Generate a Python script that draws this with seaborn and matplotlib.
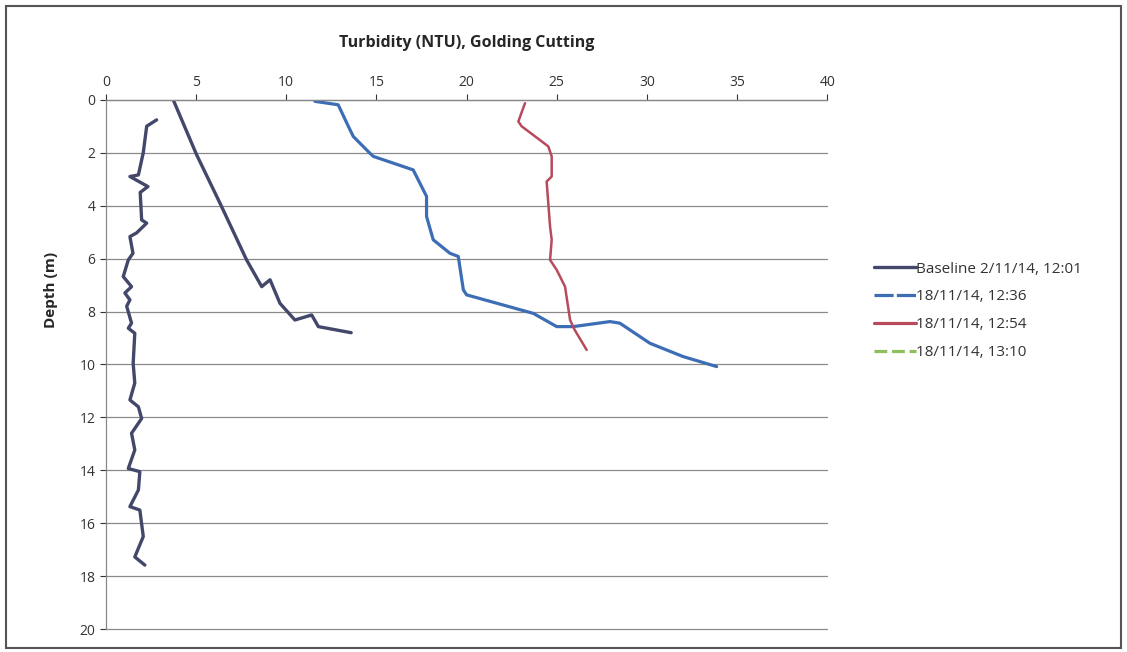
import numpy as np
import pandas as pd
import matplotlib
matplotlib.use("Agg")
import matplotlib.pyplot as plt
from matplotlib.lines import Line2D
from matplotlib.patches import Rectangle
import seaborn as sns

# ---- data (turbidity NTU vs depth m) ----
baseline_ntu = [2.81, 2.26, 2.07, 1.80, 1.33, 2.33, 1.90, 1.98, 2.26, 1.70, 1.33, 1.50, 1.24,
                0.96, 1.42, 1.05, 1.33, 1.15, 1.42, 1.24, 1.60, 1.51, 1.60, 1.33, 1.80, 1.98,
                1.42, 1.60, 1.24, 1.88, 1.80, 1.33, 1.88, 2.07, 1.60, 2.16]
baseline_depth = [0.76, 1.00, 2.00, 2.84, 2.90, 3.28, 3.50, 4.54, 4.66, 5.03, 5.17, 5.80, 6.05,
                  6.68, 7.06, 7.30, 7.56, 7.80, 8.44, 8.63, 8.82, 9.96, 10.70, 11.34, 11.60, 12.04,
                  12.60, 13.23, 13.93, 14.05, 14.74, 15.37, 15.50, 16.50, 17.27, 17.58]

profile2_ntu = [3.73, 5.03, 6.32, 7.80, 8.64, 9.10, 9.65, 10.48, 11.41, 11.78, 13.60]
profile2_depth = [0.00, 2.08, 3.90, 6.05, 7.06, 6.80, 7.69, 8.32, 8.13, 8.57, 8.80]

t1236_ntu = [11.59, 12.88, 13.44, 13.72, 14.64, 14.83, 17.04, 17.78, 17.78, 18.15, 19.08, 19.54,
             19.82, 20.00, 23.70, 25.00, 25.92, 27.95, 28.50, 30.17, 32.00, 33.87]
t1236_depth = [0.06, 0.19, 1.00, 1.39, 2.02, 2.14, 2.65, 3.65, 4.41, 5.29, 5.80, 5.92,
               7.18, 7.37, 8.07, 8.57, 8.57, 8.38, 8.44, 9.20, 9.70, 10.08]

t1254_ntu = [23.24, 22.87, 23.05, 24.53, 24.72, 24.72, 24.44, 24.63, 24.72, 24.63, 25.00, 25.46,
             25.74, 26.00, 26.66]
t1254_depth = [0.13, 0.82, 1.00, 1.76, 2.14, 2.90, 3.09, 4.79, 5.29, 6.05, 6.43, 7.06,
               8.32, 8.70, 9.45]

series_labels = ["Baseline 2/11/14, 12:01", "18/11/14, 12:36", "18/11/14, 12:54", "18/11/14, 13:10"]
x_ticks = [0, 5, 10, 15, 20, 25, 30, 35, 40]
y_ticks = [0, 2, 4, 6, 8, 10, 12, 14, 16, 18, 20]

colors = {"base": "#43486b", "blue": "#3d6db5", "red": "#b84a5c", "green": "#8fbf5a"}

sns.set_theme(style="white")
plt.rcParams['font.family'] = ['Open Sans', 'DejaVu Sans']

fig = plt.figure(figsize=(11.27, 6.52), dpi=100)
ax = fig.add_axes([0.094, 0.035, 0.64, 0.812])

def draw(xs, ys, color, lw):
    df = pd.DataFrame({"ntu": xs, "depth": ys})
    sns.lineplot(data=df, x="ntu", y="depth", sort=False, estimator=None,
                 color=color, lw=lw, ax=ax, legend=False)

draw(baseline_ntu, baseline_depth, colors["base"], 2.4)
draw(profile2_ntu, profile2_depth, colors["base"], 2.4)
draw(t1236_ntu, t1236_depth, colors["blue"], 2.3)
draw(t1254_ntu, t1254_depth, colors["red"], 1.8)

ax.set_xlim(0, 40)
ax.set_ylim(20, 0)
ax.xaxis.tick_top()
ax.xaxis.set_label_position("top")
ax.set_xticks(x_ticks)
ax.set_yticks(y_ticks)
ax.tick_params(axis="both", labelsize=10, colors="#333333", length=4, width=0.8, direction="out")
ax.tick_params(axis="y", left=True, labelleft=True)
ax.tick_params(axis="x", top=True, pad=3)
ax.set_xlabel("Turbidity (NTU), Golding Cutting", fontsize=11.5, fontweight="bold", labelpad=20)
ax.set_ylabel("Depth (m)", fontsize=11, fontweight="bold")
ax.yaxis.set_label_coords(-0.066, 0.64)

for s in ["right", "bottom"]:
    ax.spines[s].set_visible(False)
for s in ["top", "left"]:
    ax.spines[s].set_color("#888888")
    ax.spines[s].set_linewidth(0.9)
ax.grid(axis="y", color="#8a8a8a", lw=0.9)
ax.grid(axis="x", visible=False)
ax.set_axisbelow(True)
for gl in ax.get_ygridlines():
    gl.set_clip_on(False)

handles = [Line2D([], [], color=colors["base"], lw=2.4),
           Line2D([], [], color=colors["blue"], lw=2.3, ls=(0, (6, 1))),
           Line2D([], [], color=colors["red"], lw=2.3),
           Line2D([], [], color=colors["green"], lw=2.3, ls=(0, (4, 1.5)))]
fig.legend(handles, series_labels, loc="upper left", bbox_to_anchor=(0.763, 0.62),
           frameon=False, fontsize=11, handlelength=2.8, handletextpad=0.0,
           labelspacing=0.85, labelcolor="#333333")

fig.patches.append(Rectangle((0.005, 0.006), 0.99, 0.985, transform=fig.transFigure,
                             fill=False, edgecolor="#555555", lw=1.5))

fig.savefig("out.png", dpi=100)
